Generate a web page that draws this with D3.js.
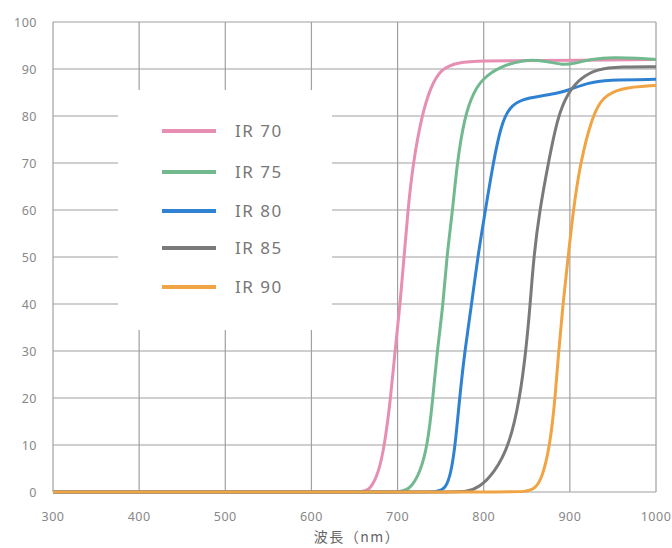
<!DOCTYPE html>
<html>
<head>
<meta charset="utf-8">
<script src="https://cdn.jsdelivr.net/npm/d3@7"></script>
<style>
  body { margin: 0; background: #fff; }
  svg { display: block; font-family: "Noto Sans", "Noto Sans CJK JP", sans-serif; }
</style>
</head>
<body>
<div id="chart"></div>
<script>
// 波長 (nm) と透過率 (%)
const seriesNames = ['IR 70', 'IR 75', 'IR 80', 'IR 85', 'IR 90'];
const seriesColors = ['#e68fb2', '#72b98f', '#2f82d2', '#7a7a7a', '#f0a444'];

const ir70 = [[300, 0], [500, 0], [640, 0], [660, 0], [668, 0.5], [678, 4], [685, 10], [692, 20], [697, 30], [703, 40],
  [707.5, 50], [712, 60], [718, 70], [728, 80], [738, 86], [750, 90], [770, 91.5], [800, 91.7], [850, 91.8], [1000, 92]];
const ir75 = [[300, 0], [500, 0], [680, 0], [705, 0], [715, 0.8], [726, 4], [735, 10], [741, 20], [746, 30], [753, 40],
  [757, 50], [764, 60], [769, 70], [778, 80], [788, 85], [799, 88], [819, 90.5], [846, 92], [870, 91.8], [892, 90.8],
  [905, 91.2], [925, 92.1], [950, 92.5], [980, 92.3], [1000, 92]];
const ir80 = [[300, 0], [500, 0], [720, 0], [747, 0], [756, 0.8], [762, 4], [767, 10], [772, 20], [778, 30], [786, 40],
  [793, 50], [802, 60], [811, 70], [820, 78], [830, 82], [845, 83.6], [865, 84.2], [885, 84.8], [900, 85.6], [920, 87],
  [943, 87.7], [1000, 87.8]];
const ir85 = [[300, 0], [500, 0], [760, 0], [780, 0], [795, 1], [812, 4], [830, 10], [842, 20], [849, 30], [854, 40],
  [858, 50], [865, 60], [875, 70], [886, 80], [898, 85], [912, 88], [931, 90], [960, 90.5], [1000, 90.5]];
const ir90 = [[300, 0], [500, 0], [820, 0], [850, 0], [860, 0.8], [868, 3], [877, 10], [883, 20], [887, 30], [892, 40],
  [898, 50], [904, 60], [912, 70], [926, 80], [938, 84], [958, 86], [1000, 86.5]];
const seriesData = [ir70, ir75, ir80, ir85, ir90];

const xTicks = [300, 400, 500, 600, 700, 800, 900, 1000];
const yTicks = [0, 10, 20, 30, 40, 50, 60, 70, 80, 90, 100];
const xTitle = '波長（nm）';

const W = 672, H = 548;
const svg = d3.select('#chart').append('svg').attr('width', W).attr('height', H);

const x = d3.scaleLinear().domain([300, 1000]).range([53, 656]);
const y = d3.scaleLinear().domain([0, 100]).range([492, 22]);

// グリッド
const grid = svg.append('g');
grid.selectAll('line.h').data(yTicks).join('line')
  .attr('x1', x(300)).attr('x2', x(1000))
  .attr('y1', d => y(d)).attr('y2', d => y(d))
  .style('stroke', '#a0a0a0').style('stroke-width', 1.2);
grid.selectAll('line.v').data(xTicks).join('line')
  .attr('x1', d => x(d)).attr('x2', d => x(d))
  .attr('y1', y(0)).attr('y2', y(100))
  .style('stroke', '#a0a0a0').style('stroke-width', 1.2);

// 目盛りラベル
svg.append('g').selectAll('text').data(yTicks).join('text')
  .attr('x', 37).attr('y', d => y(d) + 4.5)
  .attr('text-anchor', 'end')
  .style('font-size', '12.5px').style('letter-spacing', '0.5px').style('fill', '#888')
  .text(d => d);
svg.append('g').selectAll('text').data(xTicks).join('text')
  .attr('x', d => x(d)).attr('y', 521)
  .attr('text-anchor', 'middle')
  .style('font-size', '12.5px').style('letter-spacing', '0.5px').style('fill', '#888')
  .text(d => d);
svg.append('text')
  .attr('x', 357).attr('y', 542)
  .attr('text-anchor', 'middle')
  .style('font-family', '"Noto Sans CJK JP", sans-serif')
  .style('font-size', '14px').style('letter-spacing', '1.5px').style('fill', '#666')
  .text(xTitle);

// 凡例の背景
svg.append('rect')
  .attr('x', 118).attr('y', 90).attr('width', 214).attr('height', 240)
  .style('fill', '#fff');

// 曲線
const line = d3.line()
  .x(d => x(d[0]))
  .y(d => y(d[1]))
  .curve(d3.curveBasis);

svg.append('g').selectAll('path').data(seriesData).join('path')
  .attr('d', line)
  .style('fill', 'none')
  .style('stroke', (d, i) => seriesColors[i])
  .style('stroke-width', 3)
  .style('stroke-linejoin', 'round');

// 凡例
const legendY = [131, 172, 211, 248, 287];
const legend = svg.append('g');
seriesNames.forEach((name, i) => {
  legend.append('line')
    .attr('x1', 162).attr('x2', 216)
    .attr('y1', legendY[i]).attr('y2', legendY[i])
    .style('stroke', seriesColors[i]).style('stroke-width', 4);
  legend.append('text')
    .attr('x', 235).attr('y', legendY[i] + 6)
    .style('font-size', '17px').style('letter-spacing', '1.5px').style('fill', '#777')
    .text(name);
});
</script>
</body>
</html>
